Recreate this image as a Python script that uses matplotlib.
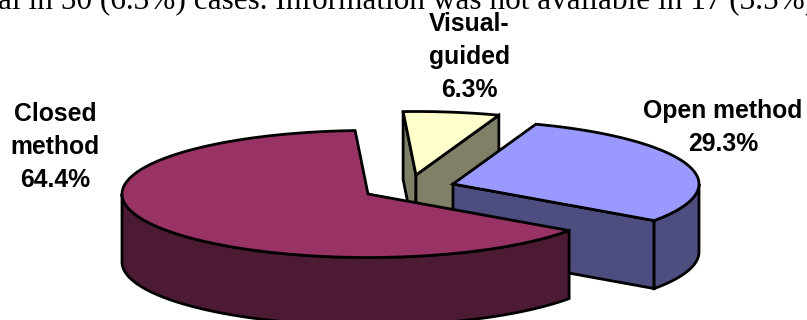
import numpy as np
import matplotlib
matplotlib.use('Agg')
import matplotlib.pyplot as plt
from matplotlib.patches import Polygon

# clockwise from the first slice angle
labels = ['Visual-\nguided\n6.3%', 'Open method\n29.3%', 'Closed\nmethod\n64.4%']
shares = [6.3, 29.3, 64.4]
top_colors = ['#FFFFCC', '#9999FF', '#993366']
wall_colors = ['#808066', '#4D4D80', '#4D1A33']

# where each exploded slice has its tip, in pixels
tips = [(416, 175), (453, 184), (368, 194)]
label_pos = [(469, 57), (723, 127.5), (55, 147)]
header = 'al in 50 (6.3%) cases. Information was not available in 17 (3.5%)'

rx = 246
ry = 63.5
depth = 68
first_angle = 93
edge = dict(edgecolor='black', linewidth=2, joinstyle='miter')


def rim(tip, start, stop, drop=0):
    # points along the ellipse between two angles (degrees)
    t = np.radians(np.linspace(start, stop, 120))
    return np.column_stack([tip[0] + rx * np.cos(t), tip[1] + drop - ry * np.sin(t)])


def wall(ax, points, color):
    lower = points[::-1] + [0, depth]
    ax.add_patch(Polygon(np.vstack([points, lower]), facecolor=color, **edge))


fig = plt.figure(figsize=(8.07, 3.2), dpi=100)
ax = fig.add_axes([0, 0, 1, 1])
ax.set_xlim(0, 807)
ax.set_ylim(320, 0)
ax.axis('off')

angles = first_angle - np.cumsum([0] + [s * 3.6 for s in shares])

for i in range(len(shares)):
    start, stop = angles[i], angles[i + 1]
    tip = np.array(tips[i], dtype=float)
    first = rim(tip, start, start)[0]
    last = rim(tip, stop, stop)[0]

    # side faces, back ones first
    if i == 0:
        wall(ax, np.array([first, tip]), wall_colors[i])
        wall(ax, np.array([tip, last]), wall_colors[i])
    elif i == 1:
        wall(ax, np.array([tip, last]), wall_colors[i])
        wall(ax, rim(tip, stop, 0), wall_colors[i])
    else:
        wall(ax, rim(tip, start, -180), wall_colors[i])

    ax.add_patch(Polygon(np.vstack([[tip], rim(tip, start, stop)]),
                         facecolor=top_colors[i], **edge))

for text, (x, y) in zip(labels, label_pos):
    ax.text(x, y, text, ha='center', va='center', family='Liberation Sans',
            fontweight='bold', fontsize=17.8, linespacing=1.45)

ax.text(-2, 9, header, ha='left', va='baseline', family='Liberation Serif', fontsize=22.5)

plt.savefig('out.png', dpi=100)
